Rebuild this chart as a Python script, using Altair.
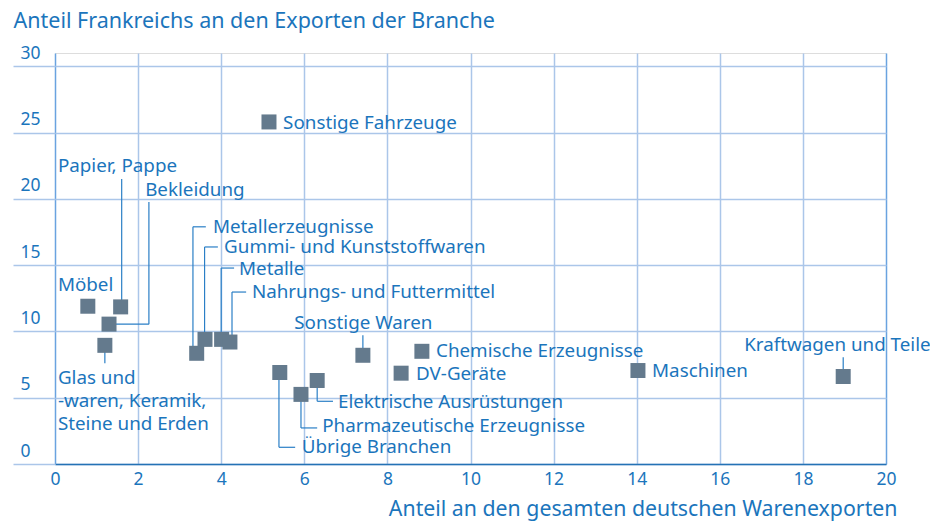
import altair as alt
import pandas as pd

# ---- data ----
branches = ["Sonstige Fahrzeuge", "Möbel", "Papier, Pappe", "Bekleidung",
            "Glas und -waren, Keramik, Steine und Erden", "Metallerzeugnisse",
            "Gummi- und Kunststoffwaren", "Metalle", "Nahrungs- und Futtermittel",
            "Übrige Branchen", "Pharmazeutische Erzeugnisse", "Elektrische Ausrüstungen",
            "Sonstige Waren", "Chemische Erzeugnisse", "DV-Geräte", "Maschinen",
            "Kraftwagen und Teile"]
share_german_exports = [5.15, 0.79, 1.58, 1.30, 1.20, 3.41, 3.61, 4.01, 4.21,
                        5.41, 5.92, 6.31, 7.41, 8.83, 8.33, 14.03, 18.97]
share_france = [25.8, 11.9, 11.85, 10.55, 8.95, 8.35, 9.4, 9.4, 9.2,
                6.9, 5.25, 6.3, 8.2, 8.5, 6.85, 7.05, 6.6]

# ---- annotation layout (label anchor positions, in data units) ----
label_text = ["Sonstige Fahrzeuge", "Möbel", "Papier, Pappe", "Bekleidung",
              "Glas und", "-waren, Keramik,", "Steine und Erden",
              "Metallerzeugnisse", "Gummi- und Kunststoffwaren", "Metalle",
              "Nahrungs- und Futtermittel", "Übrige Branchen",
              "Pharmazeutische Erzeugnisse", "Elektrische Ausrüstungen",
              "Sonstige Waren", "Chemische Erzeugnisse", "DV-Geräte", "Maschinen",
              "Kraftwagen und Teile"]
label_x = [5.49, 0.07, 0.07, 2.17, 0.07, 0.07, 0.07, 3.80, 4.07, 4.43, 4.74,
           5.94, 6.43, 6.81, 7.42, 9.17, 8.69, 14.37, 18.83]
label_y = [25.74, 13.5, 22.5, 20.7, 6.5, 4.75, 3.05, 17.9, 16.4, 14.7, 12.95,
           1.25, 2.9, 4.65, 10.6, 8.5, 6.78, 7.0, 8.95]
label_align = ["left"] * 14 + ["center", "left", "left", "left", "center"]

seg_x = [1.605, 1.30, 2.26, 3.32, 3.32, 3.60, 3.60, 4.00, 4.00, 4.26, 4.26,
         7.41, 18.97, 1.20, 5.39, 5.39, 5.92, 5.92, 6.31, 6.31]
seg_y = [11.85, 10.55, 10.55, 8.35, 17.89, 9.4, 16.37, 9.4, 14.78, 9.2, 12.97,
         8.2, 6.6, 8.95, 6.9, 1.26, 5.25, 2.72, 6.3, 4.73]
seg_x2 = [1.605, 2.26, 2.26, 3.32, 3.63, 3.60, 3.92, 4.00, 4.31, 4.26, 4.60,
          7.41, 18.97, 1.20, 5.39, 5.78, 5.92, 6.31, 6.31, 6.69]
seg_y2 = [21.5, 10.55, 19.77, 17.89, 17.89, 16.37, 16.37, 14.78, 14.78, 12.97, 12.97,
          9.71, 8.06, 7.6, 1.26, 1.26, 2.72, 2.72, 4.73, 4.73]

BLUE = "#1b75bc"
GRID = "#abc6e9"
FONT = "Noto Sans"

points = pd.DataFrame({"branch": branches, "x": share_german_exports, "y": share_france})
labels = pd.DataFrame({"text": label_text, "x": label_x, "y": label_y, "align": label_align})
segs = pd.DataFrame({"x": seg_x, "y": seg_y, "x2": seg_x2, "y2": seg_y2})

xscale = alt.Scale(domain=[0, 20], nice=False, zero=False)
yscale = alt.Scale(domain=[0, 31], nice=False, zero=False)

xaxis = alt.Axis(
    values=list(range(0, 21, 2)), grid=True,
    gridColor={"condition": {"test": "datum.value === 0 || datum.value === 20", "value": "#6aa3e0"}, "value": GRID},
    gridWidth=1.5, ticks=False, domain=True, domainColor="#2472b5", domainWidth=1.5,
    labelColor=BLUE, labelFont=FONT, labelFontSize=17.5, labelPadding=6, labelFlush=False,
    labelOverlap=False,
    title="Anteil an den gesamten deutschen Warenexporten", titleColor=BLUE, titleFont=FONT,
    titleFontSize=21.3, titleFontWeight="normal", titleAlign="right", titleAnchor="end",
    titleX=842, titleY=45, titleBaseline="middle")

yaxis = alt.Axis(
    values=list(range(0, 31, 5)), grid=True, gridColor=GRID, gridWidth=1.5,
    ticks=True, tickSize=42, tickColor=GRID, tickWidth=1.5, domain=False,
    labelColor=BLUE, labelFont=FONT, labelFontSize=17.5, labelAlign="left",
    labelBaseline="middle", labelPadding=-7, labelOffset=-13, labelOverlap=False,
    labelFlush=False,
    title="Anteil Frankreichs an den Exporten der Branche", titleColor=BLUE, titleFont=FONT,
    titleFontSize=21.5, titleFontWeight="normal", titleAngle=0, titleAlign="left",
    titleX=-42, titleY=-32, titleBaseline="middle")

base_axes = alt.Chart(points).mark_point(opacity=0).encode(
    x=alt.X("x:Q", scale=xscale, axis=xaxis),
    y=alt.Y("y:Q", scale=yscale, axis=yaxis),
)

rules = alt.Chart(segs).mark_rule(color="#2a7fc6", strokeWidth=1.2).encode(
    x=alt.X("x:Q", scale=xscale), y=alt.Y("y:Q", scale=yscale),
    x2="x2:Q", y2="y2:Q")

squares = alt.Chart(points).mark_square(size=225, color="#647a8d", opacity=1).encode(
    x=alt.X("x:Q", scale=xscale), y=alt.Y("y:Q", scale=yscale))

text_left = alt.Chart(labels).transform_filter("datum.align === 'left'").mark_text(
    align="left", baseline="middle", font=FONT, fontSize=18.8, color=BLUE).encode(
    x=alt.X("x:Q", scale=xscale), y=alt.Y("y:Q", scale=yscale), text="text:N")

text_center = alt.Chart(labels).transform_filter("datum.align === 'center'").mark_text(
    align="center", baseline="middle", font=FONT, fontSize=18.8, color=BLUE).encode(
    x=alt.X("x:Q", scale=xscale), y=alt.Y("y:Q", scale=yscale), text="text:N")

chart = alt.layer(base_axes, rules, squares, text_left, text_center).properties(
    width=831, height=411,
    autosize=alt.AutoSizeParams(type="none"),
    padding={"left": 47, "top": 45, "right": 44, "bottom": 60},
).configure_view(stroke=None).configure(background="white")

chart.save("out.html", embed_options={"renderer": "svg", "actions": False})
